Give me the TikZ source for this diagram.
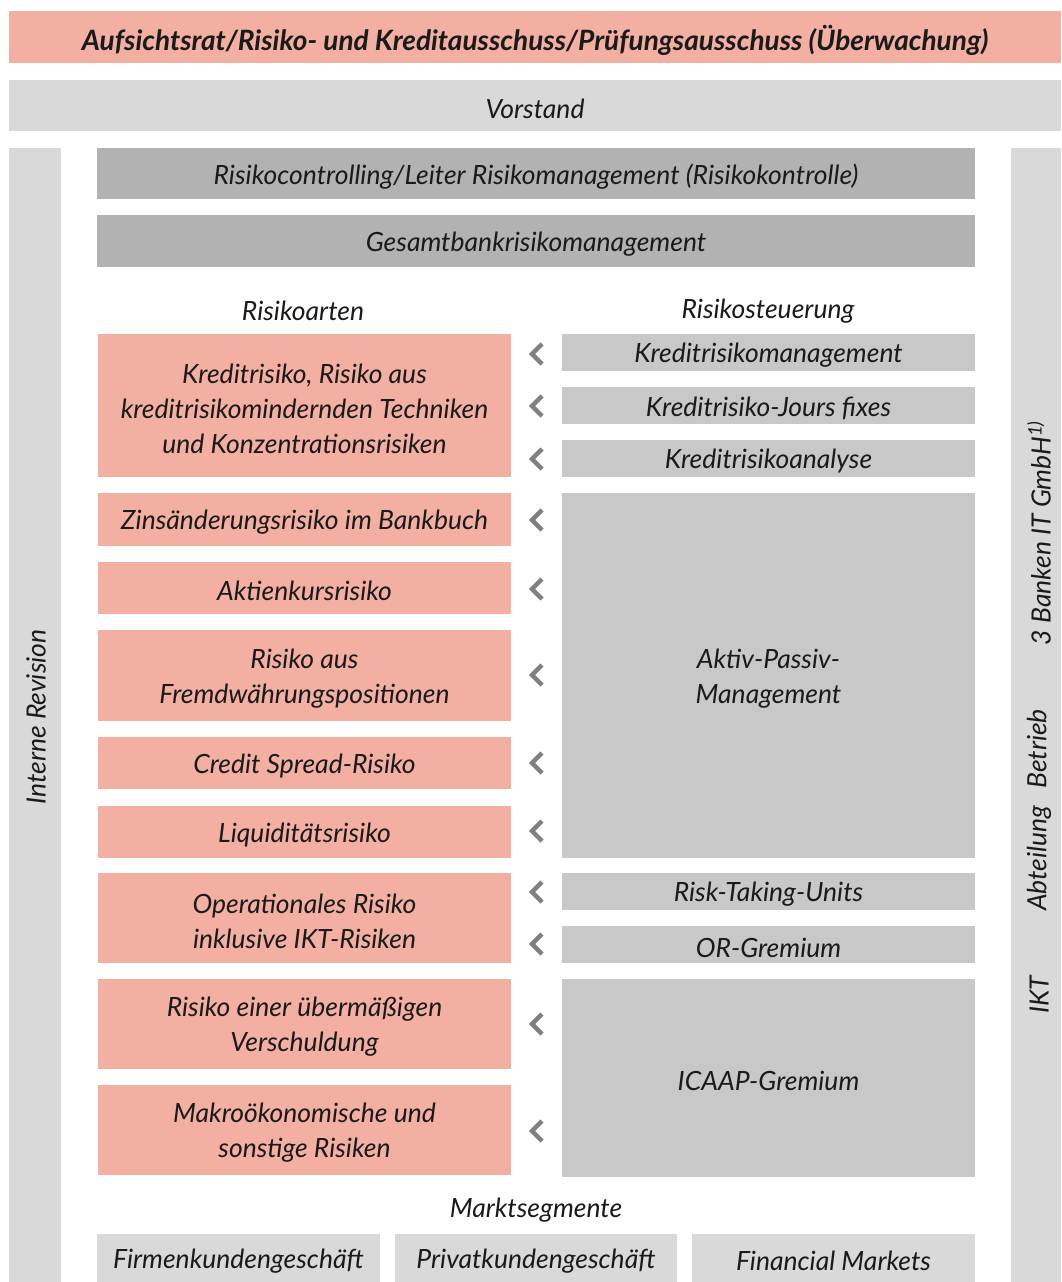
\documentclass[tikz,border=0pt]{standalone}
\usepackage{fontspec}
\setmainfont{Lato}
\definecolor{pinkc}{HTML}{F2AFA2}
\definecolor{lgray}{HTML}{D9D9D9}
\definecolor{mgray}{HTML}{C8C8C8}
\definecolor{dgray}{HTML}{B2B2B2}
\definecolor{chevc}{HTML}{808080}
\definecolor{txt}{HTML}{1A1A1A}
\tikzset{
  base/.style={inner sep=0pt, outer sep=0pt, align=center, text=txt, font=\fontsize{26.5}{35}\selectfont\itshape},
  pinkbox/.style={base, fill=pinkc},
  lbox/.style={base, fill=lgray},
  mbox/.style={base, fill=mgray},
  dbox/.style={base, fill=dgray},
  lbl/.style={inner sep=0pt, text=txt, font=\fontsize{26.5}{35}\selectfont\itshape},
  chev/.style={draw=chevc, line width=4.3pt, line cap=butt, line join=miter},
}
\newcommand{\chevat}[2]{\draw[chev] (#1+5,#2-10) -- (#1-5,#2) -- (#1+5,#2+10);}
% \bx{style}{name}{x1}{y1}{x2}{y2}{text}
\newcommand{\bx}[7]{\node[#1, minimum width={(#5-#3)*1pt}, minimum height={(#6-#4)*1pt}] (#2) at ({(#3+#5)/2},{(#4+#6)/2}) {};
  \node[#1, fill=none, yshift=-3pt] (#2t) at (#2.center) {#7};}
\begin{document}
\begin{tikzpicture}[x=1pt,y=-1pt]
\useasboundingbox (0,0) rectangle (1061,1282);
% top
\bx{pinkbox, font=\fontsize{28}{30}\selectfont\bfseries\itshape}{ar}{9}{11}{1061}{63}{Aufsichtsrat/Risiko- und Kreditausschuss/Prüfungsausschuss (Überwachung)}
\bx{lbox}{vs}{9}{80}{1061}{131}{Vorstand}
% side columns
\bx{lbox}{ir}{9}{148}{61}{1282}{}
\node[lbl, rotate=90] (irt) at (36,717) {Interne Revision};
\bx{lbox}{ikt}{1011}{148}{1061}{1282}{}
\node[lbl, rotate=90] (ikt1) at (1039,995) {IKT};
\node[lbl, rotate=90] (ikt2) at (1039,810) {Abteilung\hspace{0.4em} Betrieb};
\node[lbl, rotate=90] (ikt3) at (1039,533) {3 Banken IT GmbH\textsuperscript{1)}};
% management bars
\bx{dbox}{rc}{97}{148}{975}{199}{Risikocontrolling/Leiter Risikomanagement (Risikokontrolle)}
\bx{dbox}{gb}{97}{215}{975}{267}{Gesamtbankrisikomanagement}
% headers
\node[lbl] (ra) at (303,311) {Risikoarten};
\node[lbl] (rs) at (768,311) {Risikosteuerung};
% left risk types
\bx{pinkbox}{l1}{98}{334}{511}{477}{Kreditrisiko, Risiko aus\\kreditrisikomindernden Techniken\\und Konzentrationsrisiken}
\bx{pinkbox}{l2}{98}{493}{511}{546}{Zinsänderungsrisiko im Bankbuch}
\bx{pinkbox}{l3}{98}{562}{511}{614}{Aktienkursrisiko}
\bx{pinkbox}{l4}{98}{630}{511}{721}{Risiko aus\\Fremdwährungspositionen}
\bx{pinkbox}{l5}{98}{737}{511}{789}{Credit Spread-Risiko}
\bx{pinkbox}{l6}{98}{806}{511}{858}{Liquiditätsrisiko}
\bx{pinkbox}{l7}{98}{873}{511}{963}{Operationales Risiko\\inklusive IKT-Risiken}
\bx{pinkbox}{l8}{98}{979}{511}{1069}{Risiko einer übermäßigen\\Verschuldung}
\bx{pinkbox}{l9}{98}{1085}{511}{1175}{Makroökonomische und\\sonstige Risiken}
% right steering
\bx{mbox}{r1}{562}{334}{975}{371}{Kreditrisikomanagement}
\bx{mbox}{r2}{562}{387}{975}{424}{Kreditrisiko-Jours fixes}
\bx{mbox}{r3}{562}{440}{975}{477}{Kreditrisikoanalyse}
\bx{mbox}{r4}{562}{493}{975}{858}{Aktiv-Passiv-\\Management}
\bx{mbox}{r5}{562}{873}{975}{910}{Risk-Taking-Units}
\bx{mbox}{r6}{562}{926}{975}{963}{OR-Gremium}
\bx{mbox}{r7}{562}{979}{975}{1177}{ICAAP-Gremium}
% chevrons
\foreach \yy in {354,406,459,520,589,675,763,831,892,944,1024,1131}{\chevat{537}{\yy}}
% market segments
\node[lbl] (ms) at (536,1210) {Marktsegmente};
\bx{lbox}{m1}{97}{1234}{380}{1282}{Firmenkundengeschäft}
\bx{lbox}{m2}{395}{1234}{677}{1282}{Privatkundengeschäft}
\bx{lbox}{m3}{692}{1234}{975}{1282}{Financial Markets}
\end{tikzpicture}
\end{document}
